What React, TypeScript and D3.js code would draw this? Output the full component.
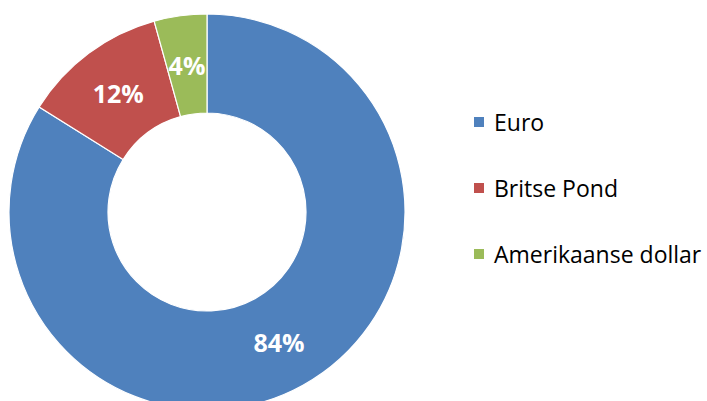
import React from "react";
import * as d3 from "d3";

const categories = ["Euro", "Britse Pond", "Amerikaanse dollar"];
const values = [83.9, 11.8, 4.3];
const labels = ["84%", "12%", "4%"];
const colors = ["#4F81BD", "#C0504D", "#9BBB59"];

const W = 707;
const H = 401;

export default function App() {
  const cx = 207;
  const cy = 212;
  const outerR = 198;
  const innerR = 99;
  const pie = d3.pie<number>().sort(null).value((d) => d);
  const arcs = pie(values);
  const arc = d3.arc<d3.PieArcDatum<number>>().innerRadius(innerR).outerRadius(outerR);
  const legendY = d3.scalePoint<string>().domain(categories).range([122, 254]);
  const font = "Open Sans, Liberation Sans, sans-serif";
  return (
    <svg
      width={W}
      height={H}
      style={{ position: "fixed", left: 0, top: 0, background: "#fff" }}
    >
      <g transform={`translate(${cx},${cy})`}>
        {arcs.map((a, i) => (
          <path key={i} d={arc(a) || ""} fill={colors[i]} stroke="#fff" strokeWidth={1.2} />
        ))}
        {arcs.map((a, i) => {
          const [x, y] = arc.centroid(a);
          return (
            <text
              key={"l" + i}
              x={x}
              y={y}
              textAnchor="middle"
              dominantBaseline="central"
              fill="#fff"
              fontFamily={font}
              fontWeight="bold"
              fontSize={25}
            >
              {labels[i]}
            </text>
          );
        })}
      </g>
      {categories.map((c, i) => {
        const y = legendY(c) as number;
        return (
          <g key={"lg" + i}>
            <rect x={474} y={y - 5} width={10} height={10} fill={colors[i]} />
            <text
              x={494}
              y={y}
              dominantBaseline="central"
              fontFamily={font}
              fontSize={23}
              fill="#000"
            >
              {c}
            </text>
          </g>
        );
      })}
    </svg>
  );
}
